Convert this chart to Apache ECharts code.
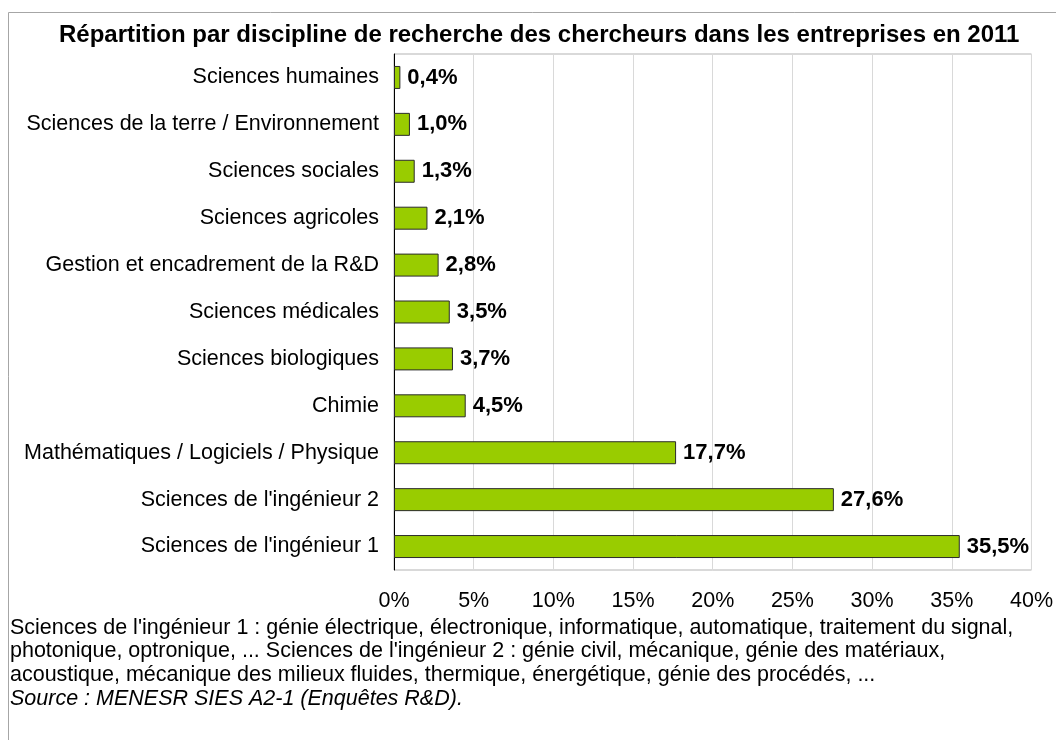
<!DOCTYPE html>
<html>
<head>
<meta charset="utf-8">
<script src="https://cdn.jsdelivr.net/npm/echarts@6/dist/echarts.min.js"></script>
<style>
  html, body { margin: 0; padding: 0; background: #ffffff; }
  #chart { width: 1056px; height: 740px; }
</style>
</head>
<body>
<div id="chart"></div>
<script>
// Disciplines, listed from top to bottom of the chart
const disciplines = [
  'Sciences humaines',
  'Sciences de la terre / Environnement',
  'Sciences sociales',
  'Sciences agricoles',
  'Gestion et encadrement de la R&D',
  'Sciences médicales',
  'Sciences biologiques',
  'Chimie',
  'Mathématiques / Logiciels / Physique',
  "Sciences de l'ingénieur 2",
  "Sciences de l'ingénieur 1"
];
// Share of company researchers in each discipline (%)
const shares = [0.4, 1.0, 1.3, 2.1, 2.8, 3.5, 3.7, 4.5, 17.7, 27.6, 35.5];

const titleText = 'Répartition par discipline de recherche des chercheurs dans les entreprises en 2011';
const noteLines = [
  "Sciences de l'ingénieur 1 : génie électrique, électronique, informatique, automatique, traitement du signal,",
  "photonique, optronique, ... Sciences de l'ingénieur 2 : génie civil, mécanique, génie des matériaux,",
  'acoustique, mécanique des milieux fluides, thermique, énergétique, génie des procédés, ...'
];
const sourceText = 'Source : MENESR SIES A2-1 (Enquêtes R&D).';

const FONT = '"Liberation Sans", Arial, sans-serif';
const pct = v => v.toFixed(1).replace('.', ',') + '%';

const chart = echarts.init(document.getElementById('chart'), null, { renderer: 'canvas' });
chart.setOption({
  animation: false,
  backgroundColor: '#ffffff',
  textStyle: { fontFamily: FONT },
  title: {
    text: titleText,
    left: 54,
    top: 18,
    textStyle: { fontFamily: FONT, fontSize: 24, fontWeight: 'bold', color: '#000' }
  },
  grid: { left: 394, right: 23, top: 54, bottom: 170, show: true, borderColor: '#b3b3b3', borderWidth: 1 },
  xAxis: {
    type: 'value',
    min: 0,
    max: 40,
    interval: 5,
    axisLine: { show: false },
    axisTick: { show: false },
    splitLine: { show: true, lineStyle: { color: '#d9d9d9', width: 1 } },
    axisLabel: { formatter: '{value}%', fontFamily: FONT, fontSize: 21.5, color: '#000', margin: 20 }
  },
  yAxis: {
    type: 'category',
    inverse: true,
    data: disciplines,
    axisLine: { show: true, lineStyle: { color: '#000', width: 1 } },
    axisTick: { show: false },
    axisLabel: { fontFamily: FONT, fontSize: 21.5, color: '#000', margin: 15 }
  },
  series: [{
    type: 'bar',
    data: shares,
    barCategoryGap: '51%',
    itemStyle: { color: '#99cc00', borderColor: '#2b2b2b', borderWidth: 1 },
    label: {
      show: true,
      position: 'right',
      distance: 7,
      formatter: p => pct(p.value),
      fontFamily: FONT,
      fontSize: 22,
      fontWeight: 'bold',
      color: '#000'
    }
  }],
  graphic: [
    {
      type: 'rect',
      silent: true,
      shape: { x: 8.5, y: 12.5, width: 1060, height: 740 },
      style: { fill: 'none', stroke: '#a6a6a6', lineWidth: 1 }
    },
    {
      type: 'text',
      left: 10,
      top: 616,
      style: {
        text: noteLines.join('\n'),
        font: '21.5px ' + FONT,
        fill: '#000',
        lineHeight: 23.7
      }
    },
    {
      type: 'text',
      left: 10,
      top: 616 + 3 * 23.7,
      style: {
        text: sourceText,
        font: 'italic 21.5px ' + FONT,
        fill: '#000',
        lineHeight: 23.7
      }
    }
  ]
});
</script>
</body>
</html>
